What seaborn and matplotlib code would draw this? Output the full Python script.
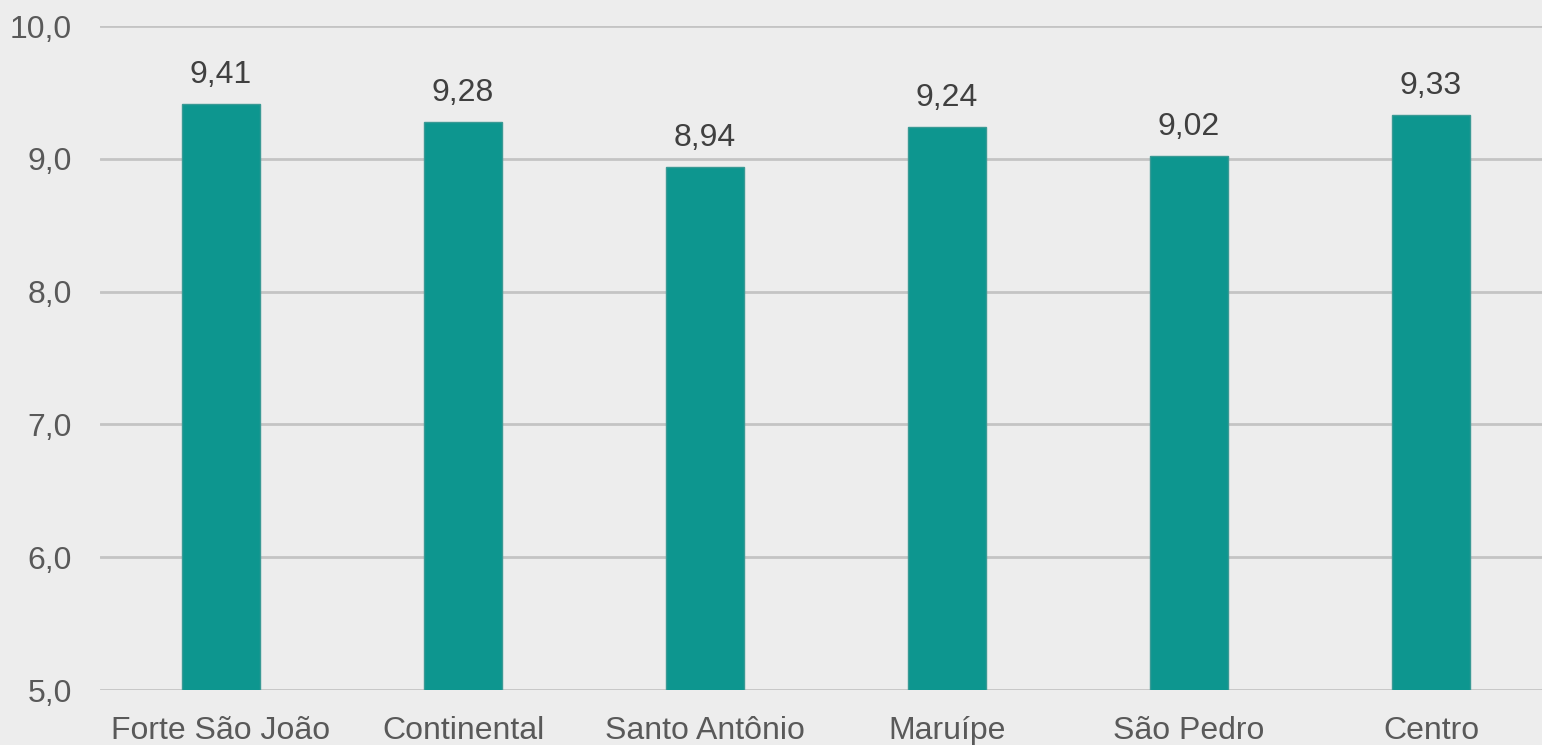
import pandas as pd
import matplotlib.pyplot as plt
import seaborn as sns
from matplotlib.ticker import FuncFormatter

# dados
regioes = ['Forte São João', 'Continental', 'Santo Antônio', 'Maruípe', 'São Pedro', 'Centro']
notas = [9.41, 9.28, 8.94, 9.24, 9.02, 9.33]

df = pd.DataFrame({'regiao': regioes, 'nota': notas})

sns.set_style('white')
plt.rcParams['font.family'] = ['Liberation Sans', 'DejaVu Sans']

fundo = '#EDEDED'
texto = '#595959'

fig = plt.figure(figsize=(15.42, 7.45), dpi=100, facecolor=fundo)
ax = fig.add_axes([100 / 1542, 1 - 690 / 745, 1 - 100 / 1542, (690 - 26) / 745])
ax.set_facecolor(fundo)

sns.barplot(data=df, x='regiao', y='nota', color='#0D968F', width=0.32,
            edgecolor='#3A9A95', linewidth=1, saturation=1, ax=ax, zorder=3)

ax.set_ylim(5, 10)
ax.set_xlim(-0.5, 5.5 - 10 / 242)
ax.set_yticks([5, 6, 7, 8, 9, 10])
ax.yaxis.set_major_formatter(FuncFormatter(lambda v, p: f'{v:.1f}'.replace('.', ',')))
ax.grid(axis='y', color='#C4C4C4', linewidth=2, zorder=0)
ax.set_axisbelow(True)

for s in ax.spines.values():
    s.set_visible(False)

ax.set_xlabel('')
ax.set_ylabel('')
ax.tick_params(axis='y', length=0, pad=20, labelsize=23, labelcolor=texto)
ax.tick_params(axis='x', length=0, pad=19, labelsize=23, labelcolor=texto)

rotulos = [f'{v:.2f}'.replace('.', ',') for v in notas]
ax.bar_label(ax.containers[0], labels=rotulos, padding=10, fontsize=23, color='#404040')

fig.savefig('out.png', dpi=100, facecolor=fundo)
